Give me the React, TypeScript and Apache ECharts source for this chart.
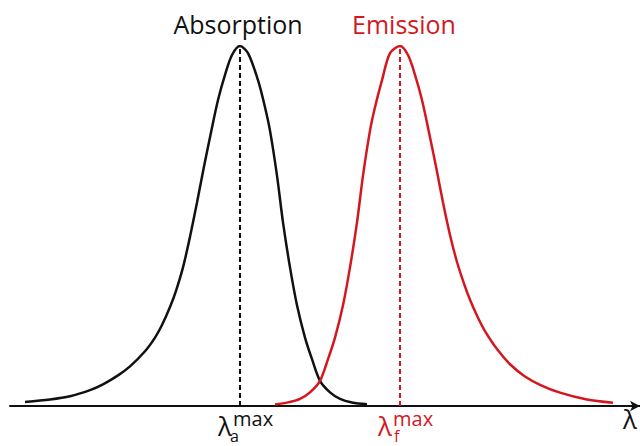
import React, { useEffect, useRef } from "react";
import * as echarts from "echarts";

// x positions (wavelength, arbitrary units) and relative intensity (%)
const absorptionX = [15, 40, 60, 80, 93, 108, 120, 135, 145, 152, 160, 166, 173, 180, 187, 194, 201, 208, 215, 222, 230, 238, 248, 255, 260, 267, 273, 280, 287, 295, 302, 310, 320, 330, 342, 357];
const absorptionY = [1.1, 1.8, 2.7, 4.4, 6.0, 8.5, 11.0, 15.2, 19, 22.5, 27.5, 32, 38.5, 47, 56.5, 66.5, 76, 85, 92, 97.5, 100, 98, 90.5, 83, 76.5, 64, 51, 38.5, 28, 19, 13, 7, 3.8, 2.0, 1.0, 0.5];

const emissionX = [265, 278, 290, 300, 310, 318, 325, 333, 340, 347, 353, 360, 365, 372, 380, 390, 398, 405, 412, 419, 426, 433, 440, 447, 454, 460, 468, 475, 487, 500, 515, 530, 550, 577, 603];
const emissionY = [0.4, 1.0, 2.0, 3.8, 7, 13, 19, 28, 38.5, 51, 64, 76.5, 83, 90.5, 98, 100, 97.5, 92, 85, 76, 66.5, 56.5, 47.5, 40, 34, 29.5, 24.5, 20.8, 15.8, 11.6, 8.2, 5.9, 3.7, 1.8, 0.9];

const absorptionPeak = 230;
const emissionPeak = 390;

const seriesNames = ["Absorption", "Emission"];

const BLACK = "#111111";
const RED = "#d4171e";
const FONT = "'Open Sans', 'Noto Sans', sans-serif";

export default function App() {
  const ref = useRef<HTMLDivElement>(null);

  useEffect(() => {
    if (!ref.current) return;
    const chart = echarts.init(ref.current, null, { renderer: "svg" });
    chart.setOption({
      animation: false,
      backgroundColor: "#ffffff",
      grid: { left: 10, right: 0, top: 46, bottom: 40, containLabel: false },
      xAxis: {
        type: "value",
        min: 0,
        max: 630,
        axisLine: {
          show: true,
          symbol: ["none", "arrow"],
          symbolSize: [8, 10],
          lineStyle: { color: BLACK, width: 2 },
        },
        axisTick: { show: false },
        axisLabel: { show: false },
        splitLine: { show: false },
      },
      yAxis: {
        type: "value",
        min: 0,
        max: 100,
        show: false,
        splitLine: { show: false },
      },
      series: [
        {
          name: seriesNames[0],
          type: "line",
          data: absorptionX.map((x, i) => [x, absorptionY[i]]),
          smooth: 0.3,
          showSymbol: false,
          lineStyle: { color: BLACK, width: 2.5 },
          markLine: {
            silent: true,
            symbol: "none",
            label: { show: false },
            lineStyle: { color: BLACK, width: 2, type: [5, 3] },
            data: [{ xAxis: absorptionPeak }],
          },
        },
        {
          name: seriesNames[1],
          type: "line",
          data: emissionX.map((x, i) => [x, emissionY[i]]),
          smooth: 0.3,
          showSymbol: false,
          lineStyle: { color: RED, width: 2.5 },
          markLine: {
            silent: true,
            symbol: "none",
            label: { show: false },
            lineStyle: { color: RED, width: 2, type: [5, 3] },
            data: [{ xAxis: emissionPeak }],
          },
        },
      ],
    });

    const xA = chart.convertToPixel({ xAxisIndex: 0 }, absorptionPeak) as number;
    const xE = chart.convertToPixel({ xAxisIndex: 0 }, emissionPeak) as number;
    const y0 = chart.convertToPixel({ yAxisIndex: 0 }, 0) as number;
    const xEnd = chart.convertToPixel({ xAxisIndex: 0 }, 630) as number;

    const txt = (text: string, x: number, y: number, size: number, color: string, align = "left") => ({
      type: "text",
      x,
      y,
      style: {
        text,
        fill: color,
        font: `${size}px ${FONT}`,
        textAlign: align,
        textVerticalAlign: "middle",
      },
    });

    chart.setOption({
      graphic: [
        txt(seriesNames[0], xA - 2, 24, 25, BLACK, "center"),
        txt(seriesNames[1], xE + 4, 24, 25, RED, "center"),
        txt("λ", xA - 15, y0 + 20, 26, BLACK, "center"),
        txt("max", xA - 7, y0 + 12, 20, BLACK),
        txt("a", xA - 10, y0 + 30, 16, BLACK),
        txt("λ", xE - 15, y0 + 20, 26, RED, "center"),
        txt("max", xE - 7, y0 + 12, 20, RED),
        txt("f", xE - 6, y0 + 30, 16, RED),
        txt("λ", xEnd - 10, y0 + 13, 26, BLACK, "center"),
      ],
    });

    return () => chart.dispose();
  }, []);

  return (
    <div
      ref={ref}
      style={{ position: "absolute", left: 0, top: 0, width: 640, height: 446 }}
    />
  );
}
